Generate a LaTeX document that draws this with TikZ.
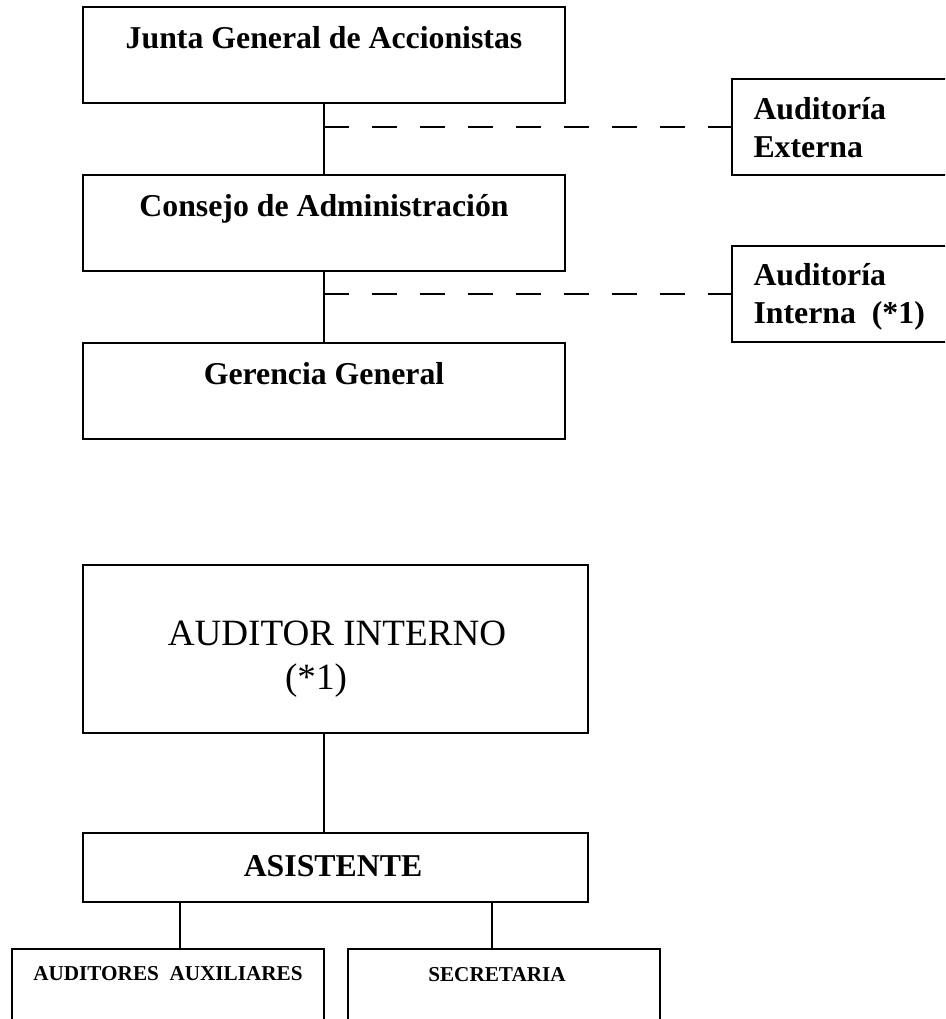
\documentclass[tikz,border=0pt]{standalone}
\usepackage{fontspec}
\setmainfont{Liberation Serif}
\usetikzlibrary{calc}

\begin{document}
\begin{tikzpicture}[x=0.3774pt, y=-0.3774pt,
  unit/.style={draw, line width=0.75pt, inner sep=0pt, outer sep=0pt,
               minimum width=181.9pt, minimum height=36.23pt},
  side/.style={unit, minimum width=86.05pt},
  big/.style={unit, minimum width=190.6pt},
  low/.style={big, minimum height=26.04pt},
  small/.style={unit, minimum width=117.75pt, minimum height=34.3pt},
  lbl/.style={font=\bfseries\fontsize{12}{14}\selectfont, inner sep=0pt, anchor=base},
  sidelbl/.style={lbl, anchor=base west, align=left},
  tiny/.style={lbl, font=\bfseries\fontsize{8}{9.6}\selectfont},
  link/.style={line width=0.75pt},
  dashlink/.style={line width=0.75pt, dash pattern=on 9.43pt off 8.68pt}
]
\useasboundingbox (0,0) rectangle (945,1019);
\clip (0,0) rectangle (945,1019);

% upper chart
\node[unit] (junta) at (324,55) {};
\node[unit] (consejo) at (324,223) {};
\node[unit] (gerencia) at (324,391) {};
\node[side] (ext) at (846,127) {};
\node[side] (int) at (846,294) {};
\node[lbl] (juntaT) at (324,48) {Junta General de Accionistas};
\node[lbl] (consejoT) at (324,216) {Consejo de Administración};
\node[lbl] (gerenciaT) at (324,384) {Gerencia General};
\node[sidelbl] (extT) at (753,157) {Auditoría\\Externa};
\node[sidelbl] (intT) at (753,323) {Auditoría\\Interna~~(*1)};
\draw[link] (junta) -- (consejo);
\draw[link] (consejo) -- (gerencia);
\draw[dashlink] (junta.south |- ext.west) -- (ext.west);
\draw[dashlink] (consejo.south |- int.west) -- (int.west);

% lower chart
\node[big, minimum height=63.4pt] (auditor) at (335.5,649) {};
\node[low] (asistente) at (335.5,867.5) {};
\node[small] (aux) at (168,994.5) {};
\node[small] (sec) at (504,994.5) {};
\node[lbl, font=\fontsize{14}{16}\selectfont] (auditorT) at (337,645) {AUDITOR INTERNO};
\node[lbl, font=\fontsize{14}{16}\selectfont] (auditorN) at (316,689) {(*1)};
\node[lbl] (asistenteT) at (333,876) {ASISTENTE};
\node[tiny] (auxT) at (168,980) {AUDITORES~~AUXILIARES};
\node[tiny] (secT) at (497,981) {SECRETARIA};
\draw[link] ($(auditor.south west)+(241,0)$) coordinate (aud1) -- (aud1 |- asistente.north);
\draw[link] ($(asistente.south west)+(97,0)$) coordinate (as1) -- (as1 |- aux.north);
\draw[link] ($(asistente.south west)+(409,0)$) coordinate (as2) -- (as2 |- sec.north);
\end{tikzpicture}
\end{document}
